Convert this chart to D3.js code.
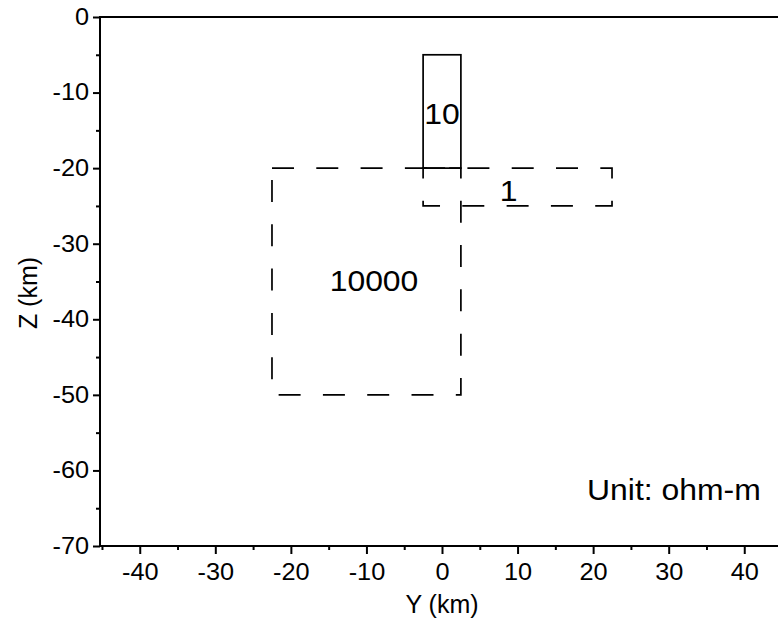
<!DOCTYPE html>
<html>
<head>
<meta charset="utf-8">
<script src="https://cdn.jsdelivr.net/npm/d3@7"></script>
<style>
    body { margin: 0; background: #fff; }
    svg { display: block; font-family: "Liberation Sans", Arial, sans-serif; }
</style>
</head>
<body>
<svg id="chart" width="778" height="619"></svg>
<script>
(function () {
    'use strict';

    // axis ticks (km)
    var yTicks = [-40, -30, -20, -10, 0, 10, 20, 30, 40];
    var yMinorTicks = [-45, -35, -25, -15, -5, 5, 15, 25, 35, 45];
    var zTicks = [0, -10, -20, -30, -40, -50, -60, -70];
    var zMinorTicks = [-5, -15, -25, -35, -45, -55, -65];

    // resistivity blocks (ohm-m), edges in km
    var blockRho = ['10', '1', '10000'];
    var blockYMin = [-2.5, -2.5, -22.5];
    var blockYMax = [2.5, 22.5, 2.5];
    var blockZTop = [-5, -20, -20];
    var blockZBottom = [-20, -25, -50];

    // where the block values are written (km)
    var labelY = [0, 8.8, -9];
    var labelZ = [-14.1, -24.4, -36.3];

    var unitNote = 'Unit: ohm-m';
    var unitY = 19.2, unitZ = -63.9;

    var svg = d3.select('#chart');
    var left = 100, right = 784, top = 17, bottom = 546;
    // the original lettering is a bit wider than Arial
    var widen = 'scale(1.1,1)';

    var x = d3.scaleLinear().domain([-45.26, 45.26]).range([left, right]);
    var y = d3.scaleLinear().domain([0, -70]).range([top, bottom]);

    var fmt = function (d) { return String(d); };

    // frame
    svg.append('rect')
        .attr('x', left)
        .attr('y', top)
        .attr('width', right - left)
        .attr('height', bottom - top)
        .attr('fill', 'none')
        .attr('stroke', '#000')
        .attr('stroke-width', 2);

    svg.append('g')
        .attr('transform', 'translate(0,' + bottom + ')')
        .call(d3.axisBottom(x).tickValues(yTicks).tickSize(8).tickPadding(10).tickFormat(fmt));
    svg.append('g')
        .attr('transform', 'translate(0,' + bottom + ')')
        .call(d3.axisBottom(x).tickValues(yMinorTicks).tickSize(4).tickFormat(''));

    svg.append('g')
        .attr('transform', 'translate(' + left + ',0)')
        .call(d3.axisLeft(y).tickValues(zTicks).tickSize(7).tickPadding(3).tickFormat(fmt));
    svg.append('g')
        .attr('transform', 'translate(' + left + ',0)')
        .call(d3.axisLeft(y).tickValues(zMinorTicks).tickSize(4).tickFormat(''));

    svg.selectAll('.domain').remove();
    svg.selectAll('.tick line').attr('stroke', '#000').attr('stroke-width', 2);
    svg.selectAll('.tick text')
        .attr('fill', '#000')
        .attr('transform', widen)
        .style('font-family', '"Liberation Sans", Arial, sans-serif')
        .style('font-size', '23px');

    // axis titles
    svg.append('text')
        .attr('x', x(0))
        .attr('y', 613)
        .attr('text-anchor', 'middle')
        .style('font-size', '25px')
        .text('Y (km)');
    svg.append('text')
        .attr('transform', 'translate(37,293) rotate(-90)')
        .attr('text-anchor', 'middle')
        .style('font-size', '25px')
        .text('Z (km)');

    // blocks
    var dashed = { '1': true, '10000': true };
    var blocks = blockRho.map(function (rho, i) {
        return { rho: rho, y0: blockYMin[i], y1: blockYMax[i], z0: blockZTop[i], z1: blockZBottom[i] };
    });
    svg.selectAll('.block')
        .data(blocks)
        .enter()
        .append('rect')
        .attr('class', 'block')
        .attr('x', function (d) { return x(d.y0); })
        .attr('y', function (d) { return y(d.z0); })
        .attr('width', function (d) { return x(d.y1) - x(d.y0); })
        .attr('height', function (d) { return y(d.z1) - y(d.z0); })
        .attr('fill', 'none')
        .attr('stroke', '#000')
        .attr('stroke-width', 1.7)
        .attr('stroke-dasharray', function (d) { return dashed[d.rho] ? '22,22.3' : null; });

    svg.selectAll('.block-label')
        .data(blocks)
        .enter()
        .append('text')
        .attr('class', 'block-label')
        .attr('transform', function (d, i) {
            return 'translate(' + x(labelY[i]) + ',' + y(labelZ[i]) + ') ' + widen;
        })
        .attr('text-anchor', 'middle')
        .style('font-size', '29px')
        .text(function (d) { return d.rho; });

    svg.append('text')
        .attr('transform', 'translate(' + x(unitY) + ',' + y(unitZ) + ') ' + widen)
        .style('font-size', '29px')
        .text(unitNote);
}());
</script>
</body>
</html>
